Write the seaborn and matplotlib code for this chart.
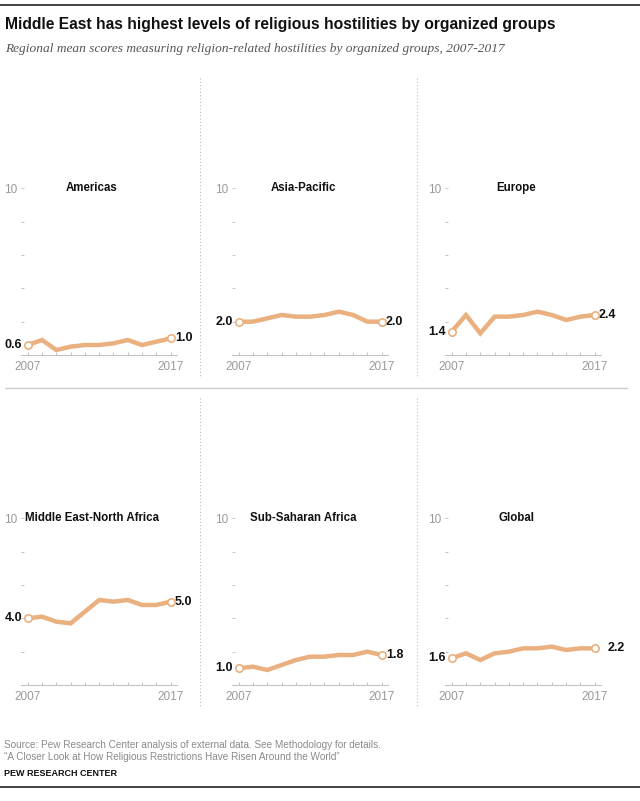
import numpy as np
import pandas as pd
import seaborn as sns
import matplotlib
matplotlib.use("Agg")
import matplotlib.pyplot as plt
from matplotlib.lines import Line2D

# ---------------- data ----------------
years = [2007, 2008, 2009, 2010, 2011, 2012, 2013, 2014, 2015, 2016, 2017]
regions = ["Americas", "Asia-Pacific", "Europe",
           "Middle East-North Africa", "Sub-Saharan Africa", "Global"]
americas = [0.6, 0.9, 0.3, 0.5, 0.6, 0.6, 0.7, 0.9, 0.6, 0.8, 1.0]
asia_pacific = [2.0, 2.0, 2.2, 2.4, 2.3, 2.3, 2.4, 2.6, 2.4, 2.0, 2.0]
europe = [1.4, 2.4, 1.3, 2.3, 2.3, 2.4, 2.6, 2.4, 2.1, 2.3, 2.4]
mena = [4.0, 4.1, 3.8, 3.7, 4.4, 5.1, 5.0, 5.1, 4.8, 4.8, 5.0]
sub_saharan = [1.0, 1.1, 0.9, 1.2, 1.5, 1.7, 1.7, 1.8, 1.8, 2.0, 1.8]
global_ = [1.6, 1.9, 1.5, 1.9, 2.0, 2.2, 2.2, 2.3, 2.1, 2.2, 2.2]
series = [americas, asia_pacific, europe, mena, sub_saharan, global_]
y_ticks = [0, 2, 4, 6, 8, 10]

title = "Middle East has highest levels of religious hostilities by organized groups"
subtitle = "Regional mean scores measuring religion-related hostilities by organized groups, 2007-2017"
source1 = "Source: Pew Research Center analysis of external data. See Methodology for details."
source2 = "\u201cA Closer Look at How Religious Restrictions Have Risen Around the World\u201d"
brand = "PEW RESEARCH CENTER"

df = pd.DataFrame({
    "region": np.repeat(regions, len(years)),
    "year": years * len(regions),
    "score": np.concatenate(series),
})

# ---------------- style ----------------
sns.set_theme(style="white")
plt.rcParams["font.family"] = ["Liberation Sans", "DejaVu Sans"]

W, H = 640, 801
fig = plt.figure(figsize=(W / 100, H / 100), dpi=100)
fig.patch.set_facecolor("white")

LINE = "#EAB07F"
GRAY_TXT = "#9a9a9a"
AX_GRAY = "#c4c4c4"


def rect(l, t, r, b):
    return [l / W, 1 - b / H, (r - l) / W, (b - t) / H]


def fy(py):
    return 1 - py / H


col_left = [20.7, 231.7, 444.7]
ax_width = 156.0
row_top = [188.3, 518.3]
row_bot = [355.0, 685.0]

for i, reg in enumerate(regions):
    r, c = divmod(i, 3)
    ax = fig.add_axes(rect(col_left[c], row_top[r], col_left[c] + ax_width, row_bot[r]))
    sub = df[df["region"] == reg]
    sns.lineplot(data=sub, x="year", y="score", ax=ax, color=LINE, lw=3.2,
                 solid_capstyle="butt", solid_joinstyle="miter", clip_on=False,
                 legend=False)
    ends = sub[sub["year"].isin([years[0], years[-1]])]
    sns.scatterplot(data=ends, x="year", y="score", ax=ax, s=28,
                    facecolor="white", edgecolor=LINE, linewidth=1.2,
                    zorder=5, clip_on=False, legend=False)
    ax.set_xlim(years[0] - 0.49, years[-1] + 0.42)
    ax.set_ylim(0, 10)
    ax.set_xlabel("")
    ax.set_ylabel("")
    ax.set_xticks(years)
    ax.set_xticklabels([str(y) if y in (years[0], years[-1]) else "" for y in years])
    ax.set_yticks(y_ticks)
    ax.set_yticklabels(["10" if t == 10 else "" for t in y_ticks])
    ax.tick_params(axis="x", direction="in", length=2.4, width=0.7, color=AX_GRAY,
                   labelcolor=GRAY_TXT, labelsize=8.5, pad=4)
    ax.tick_params(axis="y", direction="in", length=2.4, width=0.7, color=AX_GRAY,
                   labelcolor=GRAY_TXT, labelsize=8.5, pad=2.2)
    ax.tick_params(axis="x", which="both", bottom=True)
    ax.tick_params(axis="y", which="both", left=True)
    for s in ["top", "right", "left"]:
        ax.spines[s].set_visible(False)
    ax.spines["bottom"].set_color(AX_GRAY)
    ax.spines["bottom"].set_linewidth(0.8)
    ax.patch.set_alpha(0)
    ax.grid(False)

    ax.text(years[0] + 4.5, 10, reg, ha="center", va="center",
            fontsize=8.3, fontweight="bold", color="#111111")
    vals = sub["score"].tolist()
    ax.annotate(f"{vals[0]:.1f}", (years[0], vals[0]), xytext=(-4, 0),
                textcoords="offset points", ha="right", va="center",
                fontsize=9, fontweight="bold", color="#111111")
    roff = 9 if reg == "Global" else 3
    ax.annotate(f"{vals[-1]:.1f}", (years[-1], vals[-1]), xytext=(roff, 0),
                textcoords="offset points", ha="left", va="center",
                fontsize=9, fontweight="bold", color="#111111")

# separators
for x in (200, 417):
    fig.add_artist(Line2D([x / W, x / W], [fy(78), fy(378)], ls=(0, (1, 2)),
                          color="#bbbbbb", lw=0.8))
    fig.add_artist(Line2D([x / W, x / W], [fy(398), fy(708)], ls=(0, (1, 2)),
                          color="#bbbbbb", lw=0.8))
fig.add_artist(Line2D([5 / W, 627 / W], [fy(388), fy(388)], color="#cccccc", lw=1.0))
fig.add_artist(Line2D([0, 1], [fy(5), fy(5)], color="#222222", lw=1.2))
fig.add_artist(Line2D([0, 1], [fy(787), fy(787)], color="#222222", lw=1.2))

# texts
t_title = fig.text(5 / W, fy(25), title, ha="left", va="center",
                   fontsize=12, fontweight="bold", color="#111111")
t_sub = fig.text(5 / W, fy(49), subtitle, ha="left", va="center", fontsize=9,
                 style="italic", color="#555555", family=["Liberation Serif", "DejaVu Serif"])
t_s1 = fig.text(4 / W, fy(745), source1, ha="left", va="center", fontsize=7, color="#8a8a8a")
t_s2 = fig.text(4 / W, fy(757), source2, ha="left", va="center", fontsize=7, color="#8a8a8a")
t_b = fig.text(4 / W, fy(774), brand, ha="left", va="center", fontsize=7,
               fontweight="bold", color="#111111")

fig.canvas.draw()
rend = fig.canvas.get_renderer()
for t, target in [(t_title, 548), (t_sub, 495), (t_s1, 378), (t_b, 113)]:
    w = t.get_window_extent(rend).width
    t.set_fontsize(t.get_fontsize() * target / w)
t_s2.set_fontsize(t_s1.get_fontsize())

fig.savefig("out.png", dpi=100)
